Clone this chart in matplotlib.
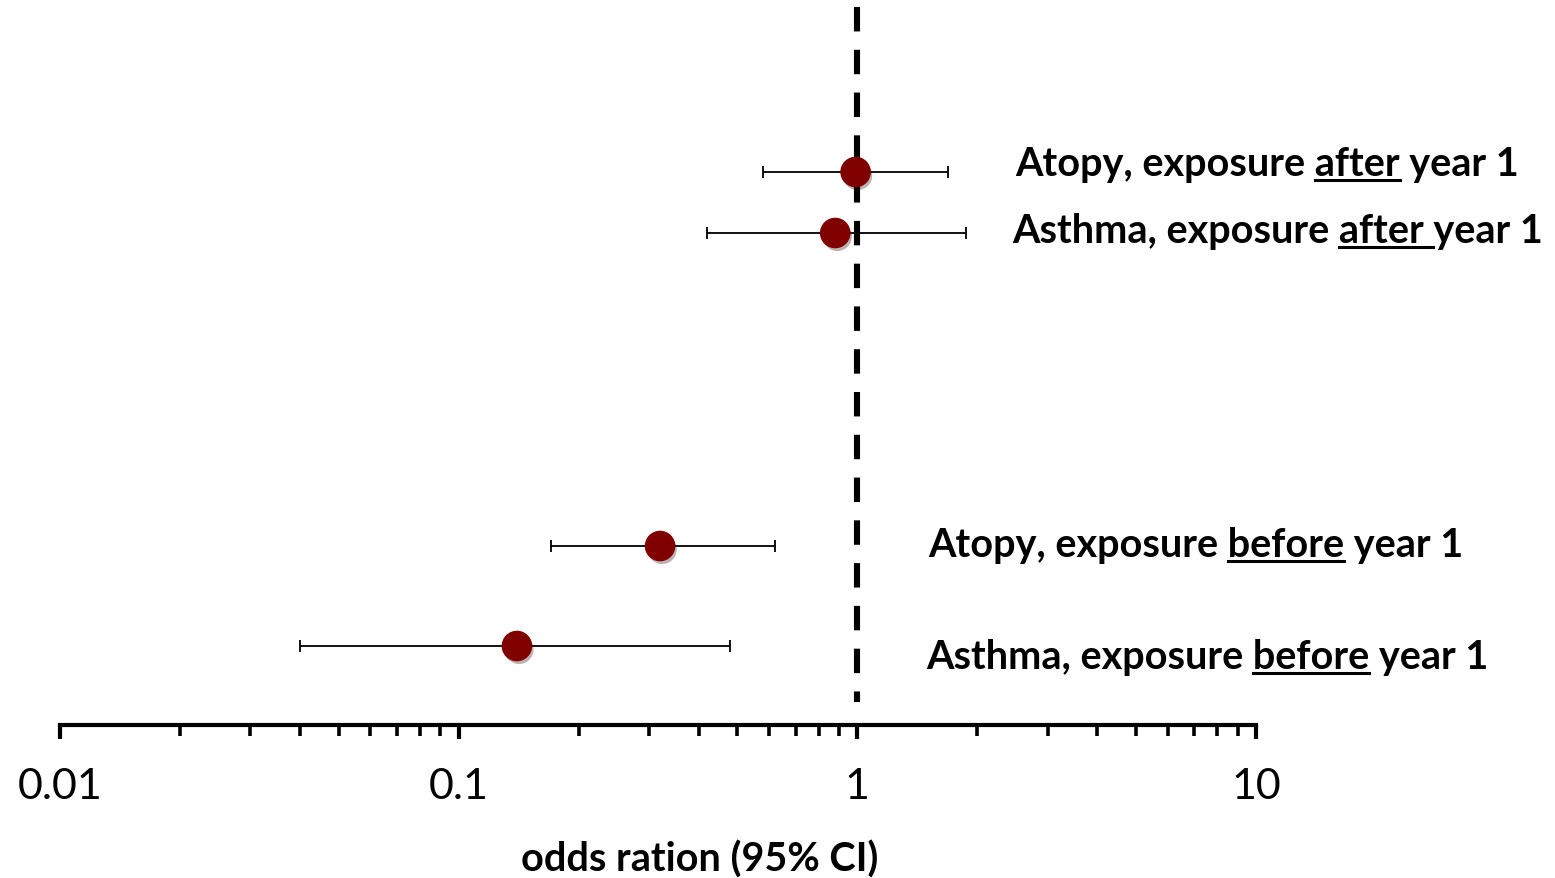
import matplotlib
matplotlib.use("Agg")
import matplotlib.pyplot as plt
import matplotlib.patheffects as pe
from matplotlib.ticker import LogLocator, NullFormatter, FixedLocator, FixedFormatter

# ---- data ----
prefixes = ["Atopy, exposure", "Asthma, exposure", "Atopy, exposure", "Asthma, exposure"]
underlined = ["after", "after ", "before", "before"]
suffixes = ["year 1", "year 1", "year 1", "year 1"]
odds_ratio = [0.99, 0.88, 0.32, 0.14]
ci_low = [0.58, 0.42, 0.17, 0.040]
ci_high = [1.69, 1.87, 0.62, 0.48]
tick_values = [0.01, 0.1, 1, 10]
tick_labels = ["0.01", "0.1", "1", "10"]
xlabel = "odds ration (95% CI)"

# ---- layout ----
W, H = 1555, 879
fig = plt.figure(figsize=(W / 100, H / 100), dpi=100)
ax_left, ax_right, ax_bottom_px, ax_top_px = 60, 1256, 726, 8
ax = fig.add_axes([ax_left / W, (H - ax_bottom_px) / H,
                   (ax_right - ax_left) / W, (ax_bottom_px - ax_top_px) / H])
ax.set_xscale("log")
ax.set_xlim(0.01, 10)
ax.set_ylim(0, 10)

px_per_unit = (ax_bottom_px - ax_top_px) / 10.0
row_px = [173, 234, 547, 647]
ypos = [(ax_bottom_px - p) / px_per_unit for p in row_px]

FONT = "Lato"

# dashed reference line at 1 (drawn from the top down)
ax.plot([1, 1], [10, (ax_bottom_px - 703) / px_per_unit], color="black",
        lw=4.4, linestyle=(0, (4.0, 3.0)), solid_capstyle="butt",
        dash_capstyle="butt", zorder=1, clip_on=False)

for i in range(len(odds_ratio)):
    x = odds_ratio[i]
    ax.errorbar([x], [ypos[i]], xerr=[[x - ci_low[i]], [ci_high[i] - x]],
                fmt="none", ecolor="black", elinewidth=1.3, capsize=4.5,
                capthick=1.3, zorder=2)
    ax.plot([x], [ypos[i]], "o", ms=21, color="#800000", mec="#800000",
            zorder=3,
            path_effects=[pe.SimplePatchShadow(offset=(1.5, -2.5), alpha=0.3),
                          pe.Normal()])

# spines / ticks
for s in ["top", "right", "left"]:
    ax.spines[s].set_visible(False)
ax.spines["bottom"].set_linewidth(3.0)
ax.set_yticks([])
ax.xaxis.set_major_locator(FixedLocator(tick_values))
ax.xaxis.set_major_formatter(FixedFormatter(tick_labels))
ax.xaxis.set_minor_locator(LogLocator(base=10, subs=range(2, 10)))
ax.xaxis.set_minor_formatter(NullFormatter())
ax.tick_params(axis="x", which="major", length=10, width=3.0, direction="out",
               pad=20, labelsize=31)
ax.tick_params(axis="x", which="minor", length=8, width=2.6, direction="out")
for lab in ax.get_xticklabels():
    lab.set_fontfamily(FONT)

fig.text(700 / W, 1 - 860 / H, xlabel, ha="center", va="center",
         fontsize=28.5, fontweight="bold", fontfamily=FONT)

# labels with underlined word
label_x_px = [1015, 1012, 928, 926]
label_base_px = [176, 243, 557, 669]
fs = 28.5
renderer = fig.canvas.get_renderer()


def text_width(s):
    t = fig.text(0, 0, s, fontsize=fs, fontweight="bold", fontfamily=FONT)
    w = t.get_window_extent(renderer).width
    t.remove()
    return w


space_w = text_width("a a") - text_width("aa")
for i in range(len(prefixes)):
    if underlined[i].endswith(" "):
        full = prefixes[i] + " " + underlined[i] + suffixes[i]
    else:
        full = prefixes[i] + " " + underlined[i] + " " + suffixes[i]
    xpx = label_x_px[i]
    ypx = H - label_base_px[i]
    fig.text(xpx / W, ypx / H, full, ha="left", va="baseline",
             fontsize=fs, fontweight="bold", fontfamily=FONT)
    start = xpx + text_width(prefixes[i]) + space_w
    wlen = text_width(underlined[i].rstrip())
    if underlined[i].endswith(" "):
        wlen += space_w
    uy = ypx - 5
    fig.add_artist(plt.Line2D([start / W, (start + wlen) / W], [uy / H, uy / H],
                              color="black", lw=2.2, transform=fig.transFigure))

fig.savefig("out.png", dpi=100)
